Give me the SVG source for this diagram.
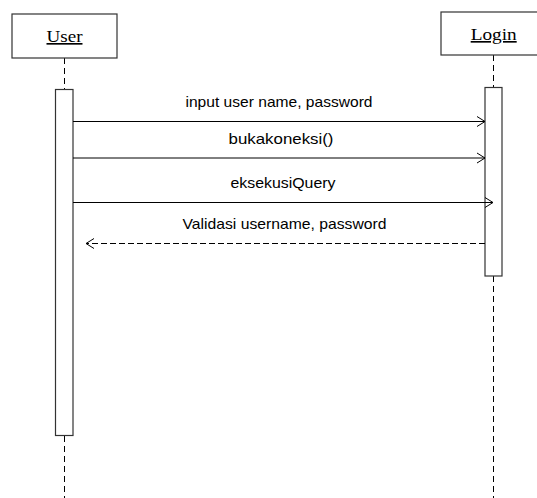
<svg xmlns="http://www.w3.org/2000/svg" width="537" height="498" viewBox="0 0 537 498">
<style>
.obj{fill:#fff;stroke:#333;stroke-width:1.2}
.act{fill:#fff;stroke:#333;stroke-width:1.2}
.life{stroke:#000;stroke-width:1;stroke-dasharray:6,4;fill:none}
.msg{stroke:#000;stroke-width:1;fill:none}
.ret{stroke:#000;stroke-width:1;fill:none;stroke-dasharray:6,3}
.name{font-family:"Liberation Serif","Times New Roman",serif;font-size:16.5px;text-anchor:middle;text-decoration:underline;fill:#000}
.lbl{font-family:"Liberation Sans",Arial,sans-serif;font-size:15px;text-anchor:middle;fill:#000}
</style>
<defs>
<marker id="open" markerUnits="userSpaceOnUse" markerWidth="12" markerHeight="12" refX="9" refY="6" orient="auto" viewBox="0 0 12 12">
<path d="M1,1 L9,6 L1,11" fill="none" stroke="#000" stroke-width="1"/>
</marker>
</defs>
<rect width="537" height="498" fill="#fff"/>
<g id="user">
<line class="life" x1="64.5" y1="58" x2="64.5" y2="89.5"/>
<line class="life" x1="64.5" y1="436" x2="64.5" y2="498"/>
<rect class="obj" x="12" y="14" width="105" height="44"/>
<text class="name" x="64.5" y="42" textLength="36" lengthAdjust="spacingAndGlyphs">User</text>
<rect class="act" x="55.5" y="89.5" width="17.5" height="346"/>
</g>
<g id="login">
<line class="life" x1="493.5" y1="55" x2="493.5" y2="87.5"/>
<line class="life" x1="493.5" y1="276" x2="493.5" y2="498"/>
<rect class="obj" x="441" y="12" width="105" height="43"/>
<text class="name" x="493.7" y="40" textLength="46" lengthAdjust="spacingAndGlyphs">Login</text>
<rect class="act" x="485" y="87.5" width="17" height="188.5"/>
</g>
<g id="connectors">
<line class="msg" x1="73" y1="121.5" x2="485" y2="121.5" marker-end="url(#open)"/>
<text class="lbl" x="279" y="107" textLength="187" lengthAdjust="spacingAndGlyphs">input user name, password</text>
<line class="msg" x1="73" y1="158" x2="485" y2="158" marker-end="url(#open)"/>
<text class="lbl" x="281" y="144" textLength="105" lengthAdjust="spacingAndGlyphs">bukakoneksi()</text>
<line class="msg" x1="73" y1="202.5" x2="493" y2="202.5" marker-end="url(#open)"/>
<text class="lbl" x="283" y="188" textLength="105" lengthAdjust="spacingAndGlyphs">eksekusiQuery</text>
<line class="ret" x1="485" y1="243.5" x2="86" y2="243.5" marker-end="url(#open)"/>
<text class="lbl" x="284.5" y="228.5" textLength="204" lengthAdjust="spacingAndGlyphs">Validasi username, password</text>
</g>
</svg>
